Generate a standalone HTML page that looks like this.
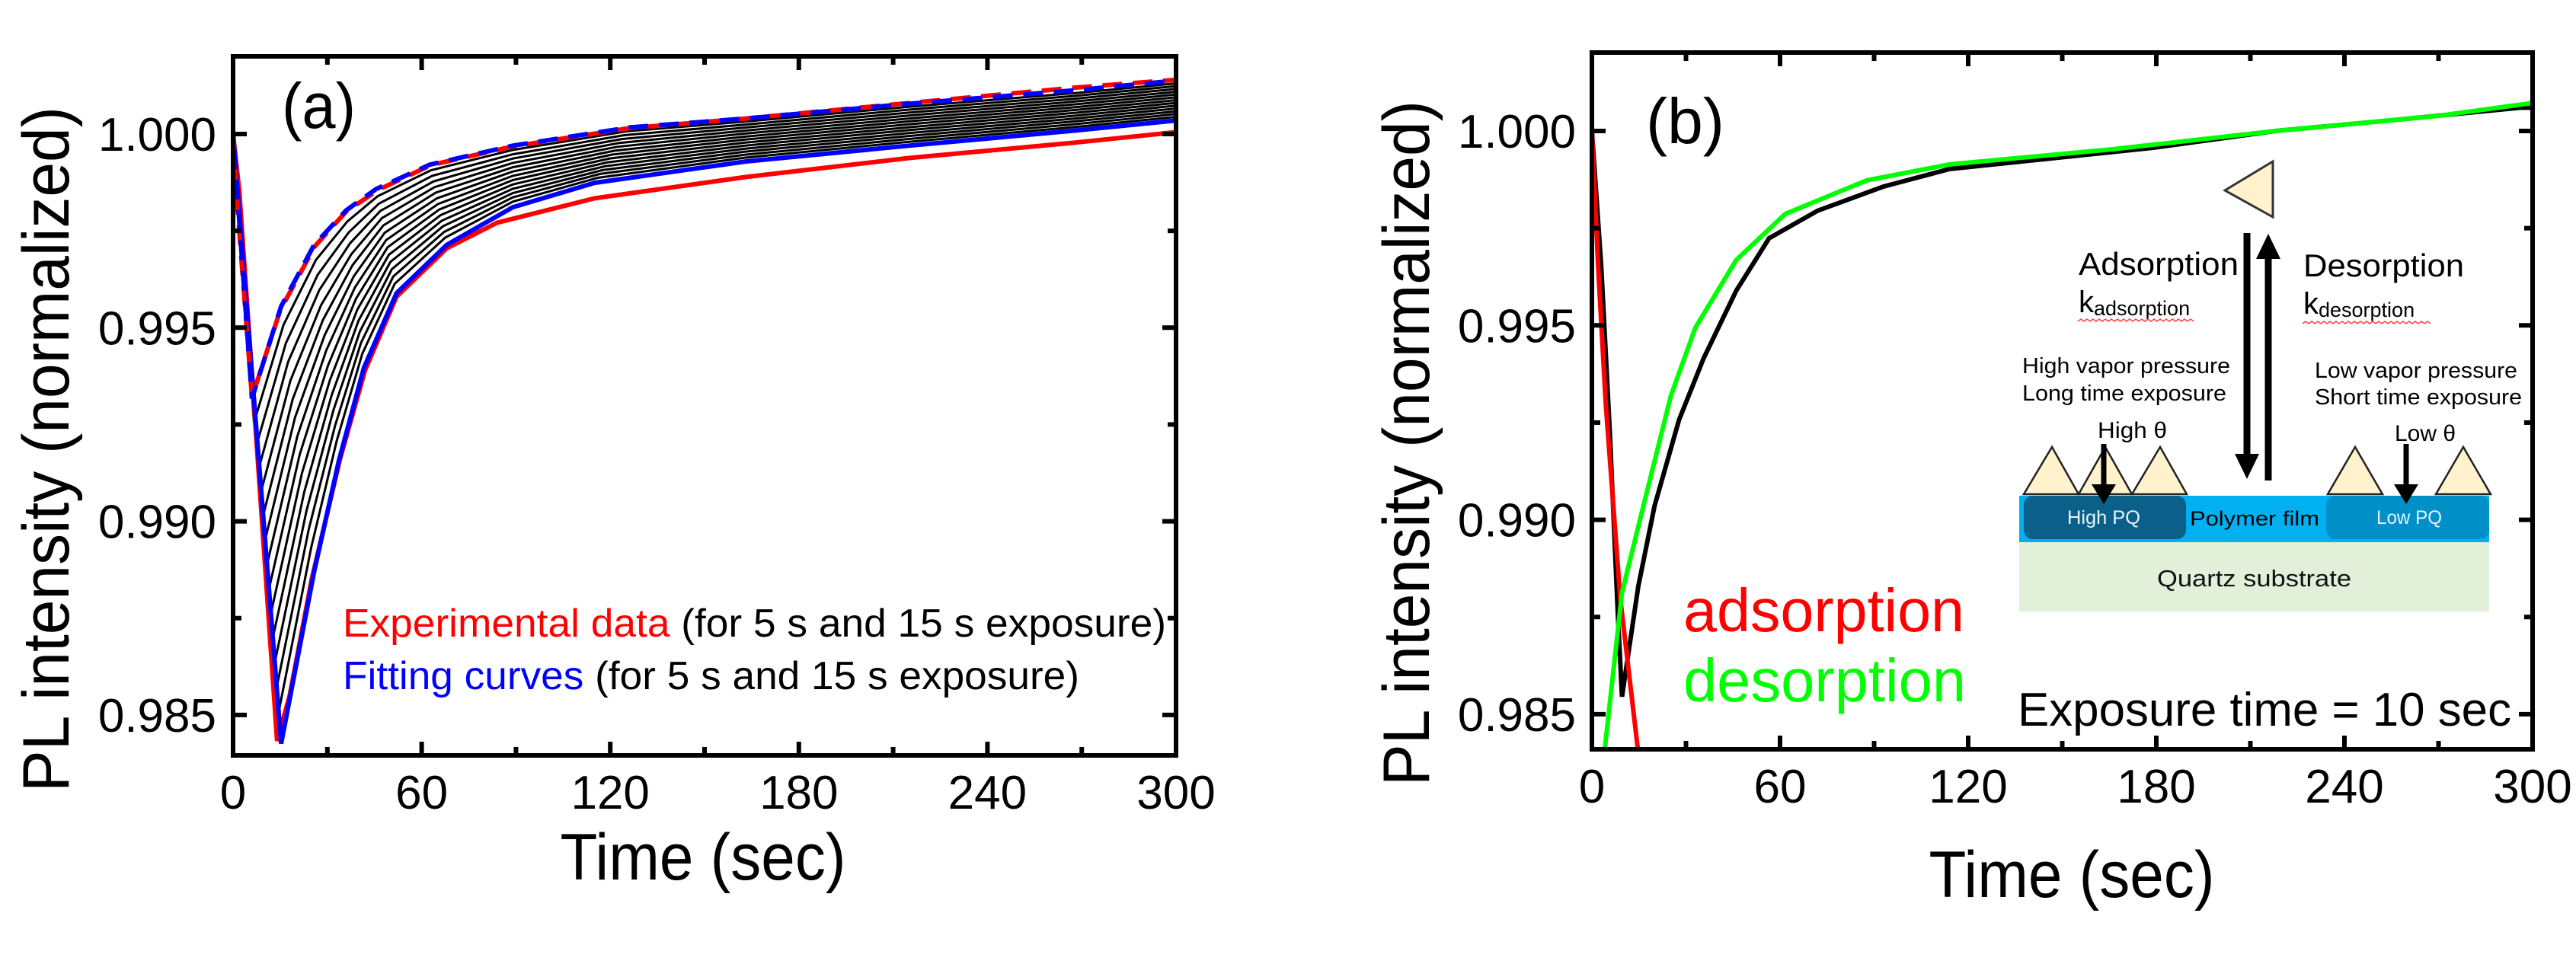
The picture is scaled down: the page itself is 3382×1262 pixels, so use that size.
<!DOCTYPE html>
<html><head><meta charset="utf-8"><style>
html,body{margin:0;padding:0;background:#fff;}
svg{display:block;font-family:"Liberation Sans",Arial,sans-serif;}
</style></head><body>
<svg id="fig" width="3382" height="1262" viewBox="0 0 3382 1262" xmlns="http://www.w3.org/2000/svg">
<defs>
<clipPath id="clipA"><rect x="306" y="74" width="1238" height="918"/></clipPath>
<clipPath id="clipB"><rect x="2090" y="69" width="1235" height="915"/></clipPath>
</defs>
<g id="panelA"></g>
<g id="panelB"></g>
<g id="inset">
  <polygon points="2921,250 2984,212 2984,285" fill="#fff2cc" stroke="#333" stroke-width="3"/>
  <line x1="2950" y1="306" x2="2950" y2="600" stroke="#000" stroke-width="9"/>
  <polygon points="2934,596 2966,596 2950,629" fill="#000"/>
  <line x1="2978" y1="631" x2="2978" y2="336" stroke="#000" stroke-width="9"/>
  <polygon points="2962,340 2994,340 2978,307" fill="#000"/>
  <text x="2729" y="361" font-size="42" textLength="210" lengthAdjust="spacingAndGlyphs">Adsorption</text>
  <text x="2729" y="410" font-size="40">k<tspan font-size="27" dy="4">adsorption</tspan></text>
  <path d="M2728,422 l4,-3 l4,3 l4,-3 l4,3 l4,-3 l4,3 l4,-3 l4,3 l4,-3 l4,3 l4,-3 l4,3 l4,-3 l4,3 l4,-3 l4,3 l4,-3 l4,3 l4,-3 l4,3 l4,-3 l4,3 l4,-3 l4,3 l4,-3 l4,3 l4,-3 l4,3 l4,-3 l4,3 l4,-3 l4,3 l4,-3 l4,3 l4,-3 l4,3 l4,-3 l4,3" fill="none" stroke="#ff4040" stroke-width="1.5"/>
  <text x="3024" y="363" font-size="42" textLength="211" lengthAdjust="spacingAndGlyphs">Desorption</text>
  <text x="3024" y="412" font-size="40">k<tspan font-size="27" dy="4">desorption</tspan></text>
  <path d="M3023,425 l4,-3 l4,3 l4,-3 l4,3 l4,-3 l4,3 l4,-3 l4,3 l4,-3 l4,3 l4,-3 l4,3 l4,-3 l4,3 l4,-3 l4,3 l4,-3 l4,3 l4,-3 l4,3 l4,-3 l4,3 l4,-3 l4,3 l4,-3 l4,3 l4,-3 l4,3 l4,-3 l4,3 l4,-3 l4,3 l4,-3 l4,3 l4,-3 l4,3 l4,-3 l4,3 l4,-3 l4,3 l4,-3 l4,3" fill="none" stroke="#ff4040" stroke-width="1.5"/>
  <text x="2655" y="490" font-size="29" textLength="273" lengthAdjust="spacingAndGlyphs">High vapor pressure</text>
  <text x="2655" y="526" font-size="29" textLength="268" lengthAdjust="spacingAndGlyphs">Long time exposure</text>
  <text x="3039" y="496" font-size="29" textLength="266" lengthAdjust="spacingAndGlyphs">Low vapor pressure</text>
  <text x="3039" y="531" font-size="29" textLength="272" lengthAdjust="spacingAndGlyphs">Short time exposure</text>
  <text x="2754" y="575" font-size="30" textLength="91" lengthAdjust="spacingAndGlyphs">High θ</text>
  <text x="3144" y="579" font-size="30" textLength="80" lengthAdjust="spacingAndGlyphs">Low θ</text>
  <rect x="2651" y="712" width="617" height="91" fill="#e2efd9"/>
  <rect x="2651" y="651" width="617" height="61" fill="#00b0f0"/>
  <rect x="2657" y="651" width="213" height="57" rx="12" fill="#0a6089"/>
  <rect x="3054" y="651" width="214" height="57" rx="12" fill="#0090c8"/>
  <text x="2714" y="688" font-size="25" fill="#e8f4fb" textLength="96" lengthAdjust="spacingAndGlyphs">High PQ</text>
  <text x="2875" y="690" font-size="27" fill="#000" textLength="170" lengthAdjust="spacingAndGlyphs">Polymer film</text>
  <text x="3120" y="688" font-size="25" fill="#e8f4fb" textLength="86" lengthAdjust="spacingAndGlyphs">Low PQ</text>
  <text x="2832" y="770" font-size="31" fill="#111" textLength="255" lengthAdjust="spacingAndGlyphs">Quartz substrate</text>
  <polygon points="2657,649 2694,587 2729,649" fill="#fff2cc" stroke="#222" stroke-width="2.5"/>
  <polygon points="2729,649 2764,587 2799,649" fill="#fff2cc" stroke="#222" stroke-width="2.5"/>
  <polygon points="2799,649 2836,587 2871,649" fill="#fff2cc" stroke="#222" stroke-width="2.5"/>
  <polygon points="3056,649 3092,587 3128,649" fill="#fff2cc" stroke="#222" stroke-width="2.5"/>
  <polygon points="3198,649 3234,587 3270,649" fill="#fff2cc" stroke="#222" stroke-width="2.5"/>
  <line x1="2762" y1="583" x2="2762" y2="640" stroke="#000" stroke-width="7"/>
  <polygon points="2746,636 2778,636 2762,662" fill="#000"/>
  <line x1="3159" y1="583" x2="3159" y2="640" stroke="#000" stroke-width="7"/>
  <polygon points="3143,636 3175,636 3159,662" fill="#000"/>
</g>
</svg>
<script>
// ---------- Panel (a) data ----------
const xTicks = [0, 60, 120, 180, 240, 300];
const yTicks = [0.985, 0.990, 0.995, 1.000];
const yTickLabels = ["0.985", "0.990", "0.995", "1.000"];
// Blue fitting curve, 5 s exposure (dashed)
const fit5T = [0, 6, 15.3, 25.8, 36, 45.5, 62.6, 89, 126, 163, 215, 268, 300];
const fit5V = [1.0, 0.99317, 0.99555, 0.99714, 0.99803, 0.99858, 0.99921, 0.9997, 1.00017, 1.0004, 1.00078, 1.00113, 1.00138];
// Blue fitting curve, 15 s exposure (solid)
const fit15T = [0, 15.3, 25.8, 33.7, 41.6, 52, 68, 89, 115, 163, 215, 268, 300];
const fit15V = [1.0, 0.98426, 0.98871, 0.99158, 0.99396, 0.99589, 0.99714, 0.99811, 0.99874, 0.99929, 0.9997, 1.00009, 1.00035];
// Red experimental, 5 s (dashed)
const exp5T = [0, 1.5, 6, 15, 26, 36, 46, 63, 89, 126, 163, 215, 268, 300];
const exp5V = [1.0, 0.998, 0.9932, 0.99545, 0.9971, 0.998, 0.99855, 0.9992, 0.99968, 1.00015, 1.0004, 1.0008, 1.0012, 1.0014];
// Red experimental, 15 s (solid)
const exp15T = [0, 2, 14, 18, 25, 34, 42, 52, 68, 84, 115, 163, 215, 268, 300];
const exp15V = [1.0, 0.9985, 0.98433, 0.9855, 0.9885, 0.9916, 0.9939, 0.9958, 0.99705, 0.99771, 0.99834, 0.99889, 0.99938, 0.99978, 1.00005];
// Black simulated family (intermediate exposure times) — blend weights between 5 s and 15 s fits
const familyWeights = [0.07, 0.14, 0.21, 0.28, 0.35, 0.42, 0.49, 0.56, 0.63, 0.70, 0.77, 0.84, 0.91];

// ---------- Panel (b) data ----------
const adsT = [0, 2, 4.4, 9, 14.8, 17];
const adsV = [1.0, 0.9965, 0.993, 0.988, 0.984, 0.9825];
const desT = [3.9, 9.6, 17.4, 25.2, 33, 46, 61.7, 87.7, 114, 166, 218, 270, 300];
const desV = [0.98396, 0.98813, 0.99067, 0.99319, 0.99494, 0.99668, 0.99787, 0.99873, 0.99914, 0.99953, 1.0, 1.00039, 1.00072];
const dataT = [0, 3, 5.7, 8.3, 9.6, 14.8, 20, 27.8, 35.6, 46, 56.5, 72, 93, 114, 140, 179, 218, 257, 296, 300];
const dataV = [1.0, 0.9965, 0.99226, 0.9875, 0.98545, 0.98829, 0.99036, 0.99257, 0.99415, 0.99589, 0.99724, 0.99795, 0.99857, 0.99902, 0.99924, 0.99957, 1.0, 1.00029, 1.0006, 1.0006];

const NS = "http://www.w3.org/2000/svg";
function mk(tag, attrs, parent) {
  const e = document.createElementNS(NS, tag);
  for (const k in attrs) e.setAttribute(k, attrs[k]);
  parent.appendChild(e);
  return e;
}
function axis(x0, x1, y1v, y1px, pxPer005) {
  return {
    x: t => x0 + (t / 300) * (x1 - x0),
    y: v => y1px + (1.0 - v) / 0.005 * pxPer005
  };
}
function pathD(T, V, ax) {
  let d = "";
  for (let i = 0; i < T.length; i++) {
    d += (i ? "L" : "M") + ax.x(T[i]).toFixed(1) + "," + ax.y(V[i]).toFixed(1);
  }
  return d;
}
function drawFrame(g, L, R, T, B, ax, labelRight, titleX, titleY, ytitleX, ytitleY) {
  // ticks
  for (let t = 30; t < 300; t += 30) {
    const major = t % 60 === 0;
    const len = major ? 18 : 11;
    const tb = mk("line", {x1: ax.x(t), x2: ax.x(t), y1: B, y2: B - len, stroke: "#000", "stroke-width": 6}, g);
    
    
    const tt = mk("line", {x1: ax.x(t), x2: ax.x(t), y1: T, y2: T + len, stroke: "#000", "stroke-width": 6}, g);
    
    
  }
  for (let k = 0; k < 8; k++) {
    const v = 0.985 + k * 0.0025;
    const yy = ax.y(v);
    if (yy < T + 3 || yy > B - 3) continue;
    const major = k % 2 === 0;
    const len = major ? 18 : 11;
    const tl = mk("line", {x1: L, x2: L + len, y1: yy, y2: yy, stroke: "#000", "stroke-width": 6}, g);
    
    
    const tr = mk("line", {x1: R, x2: R - len, y1: yy, y2: yy, stroke: "#000", "stroke-width": 6}, g);
    
    
  }
  const box = mk("rect", {x: L, y: T, width: R - L, height: B - T, fill: "none", stroke: "#000", "stroke-width": 6}, g);
  
  
  xTicks.forEach(t => {
    const tx = mk("text", {x: ax.x(t), y: B + 70, "font-size": 62, "text-anchor": "middle"}, g);
    
    
    tx.textContent = String(t);
  });
  yTicks.forEach((v, i) => {
    const tx = mk("text", {x: labelRight, y: ax.y(v) + 22, "font-size": 62, "text-anchor": "end"}, g);
    
    
    tx.textContent = yTickLabels[i];
  });
  const xt = mk("text", {x: titleX, y: titleY, "font-size": 86, "text-anchor": "middle", textLength: 375, lengthAdjust: "spacingAndGlyphs"}, g);
  
  
  xt.textContent = "Time (sec)";
  const yt = mk("text", {x: 0, y: 0, "font-size": 86, "text-anchor": "middle", textLength: 900, lengthAdjust: "spacingAndGlyphs",
    transform: "translate(" + ytitleX + "," + ytitleY + ") rotate(-90)"}, g);
  
  
  yt.textContent = "PL intensity (normalized)";
}

// ----- Panel A -----
const gA = document.getElementById("panelA");
const axA = axis(306, 1544, 1.0, 176, 254.3);
const curvesA = mk("g", {"clip-path": "url(#clipA)"}, gA);


familyWeights.forEach(w => {
  const T = fit5T.map((t, i) => (1 - w) * t + w * fit15T[i]);
  const V = fit5V.map((v, i) => (1 - w) * v + w * fit15V[i]);
  const p = mk("path", {d: pathD(T, V, axA), fill: "none", stroke: "#000", "stroke-width": 3}, curvesA);
  
  
});
let p;
p = mk("path", {d: pathD(exp15T, exp15V, axA), fill: "none", stroke: "#ff0000", "stroke-width": 6}, curvesA);


p = mk("path", {d: pathD(fit15T, fit15V, axA), fill: "none", stroke: "#0000ff", "stroke-width": 6}, curvesA);


p = mk("path", {d: pathD(exp5T, exp5V, axA), fill: "none", stroke: "#ff0000", "stroke-width": 6, "stroke-dasharray": "26 14"}, curvesA);


p = mk("path", {d: pathD(fit5T, fit5V, axA), fill: "none", stroke: "#0000ff", "stroke-width": 6, "stroke-dasharray": "26 14", "stroke-dashoffset": 20}, curvesA);


drawFrame(gA, 306, 1544, 74, 992, axA, 284, 923, 1155, 90, 590);
let t;
t = mk("text", {x: 370, y: 168, "font-size": 84, textLength: 97, lengthAdjust: "spacingAndGlyphs"}, gA);


t.textContent = "(a)";
t = mk("text", {x: 450, y: 836, "font-size": 52, textLength: 1081, lengthAdjust: "spacingAndGlyphs"}, gA);


t.innerHTML = '<tspan fill="#ff0000">Experimental data</tspan> (for 5 s and 15 s exposure)';
t = mk("text", {x: 450, y: 905, "font-size": 52, textLength: 967, lengthAdjust: "spacingAndGlyphs"}, gA);


t.innerHTML = '<tspan fill="#0000ff">Fitting curves</tspan> (for 5 s and 15 s exposure)';

// ----- Panel B -----
const gB = document.getElementById("panelB");
const axB = axis(2090, 3325, 1.0, 172, 255.3);
const curvesB = mk("g", {"clip-path": "url(#clipB)"}, gB);


p = mk("path", {d: pathD(dataT, dataV, axB), fill: "none", stroke: "#000", "stroke-width": 6}, curvesB);


p = mk("path", {d: pathD(adsT, adsV, axB), fill: "none", stroke: "#ff0000", "stroke-width": 6}, curvesB);


p = mk("path", {d: pathD(desT, desV, axB), fill: "none", stroke: "#00ff00", "stroke-width": 6}, curvesB);


drawFrame(gB, 2090, 3325, 69, 984, axB, 2069, 2720, 1178, 1876, 582);
t = mk("text", {x: 2161, y: 188, "font-size": 84, textLength: 103, lengthAdjust: "spacingAndGlyphs"}, gB);


t.textContent = "(b)";
t = mk("text", {x: 2210, y: 829, "font-size": 80, fill: "#ff0000", textLength: 369, lengthAdjust: "spacingAndGlyphs"}, gB);


t.textContent = "adsorption";
t = mk("text", {x: 2210, y: 921, "font-size": 80, fill: "#00ff00", textLength: 371, lengthAdjust: "spacingAndGlyphs"}, gB);


t.textContent = "desorption";
t = mk("text", {x: 2649, y: 953, "font-size": 62, textLength: 648, lengthAdjust: "spacingAndGlyphs"}, gB);


t.textContent = "Exposure time = 10 sec";
</script>
</body></html>
